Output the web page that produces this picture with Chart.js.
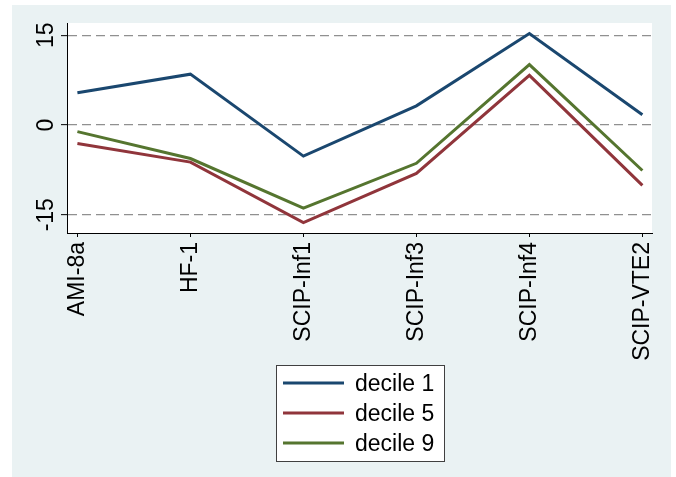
<!DOCTYPE html>
<html>
<head>
<meta charset="utf-8">
<script src="https://cdn.jsdelivr.net/npm/chart.js@4/dist/chart.umd.min.js"></script>
<style>
  html, body { margin: 0; padding: 0; background: #ffffff; }
  canvas { display: block; }
</style>
</head>
<body>
<canvas id="chart" width="676" height="477"></canvas>
<script>
// Measures and the three decile series
const categories = ['AMI-8a', 'HF-1', 'SCIP-Inf1', 'SCIP-Inf3', 'SCIP-Inf4', 'SCIP-VTE2'];
const decile1 = [5.4, 8.5, -5.2, 3.2, 15.3, 1.7];
const decile5 = [-3.1, -6.2, -16.3, -8.1, 8.3, -10.1];
const decile9 = [-1.1, -5.6, -13.9, -6.4, 10.1, -7.6];
const seriesNames = ['decile 1', 'decile 5', 'decile 9'];
const yTicks = [-15, 0, 15];

const FONT = '"Liberation Sans", Arial, Helvetica, sans-serif';
const FONT_SIZE = 23;
const colors = ['#1a476f', '#90353b', '#55752f'];

const toPoints = vals => vals.map((v, i) => ({ x: i, y: v }));

// Graph region, plot region backgrounds
const backdrop = {
  id: 'backdrop',
  beforeDraw(chart) {
    const { ctx, chartArea: a } = chart;
    ctx.save();
    ctx.fillStyle = '#ffffff';
    ctx.fillRect(0, 0, chart.width, chart.height);
    ctx.fillStyle = '#eaf2f3';
    ctx.fillRect(12, 5, 659, 472);
    ctx.fillStyle = '#ffffff';
    ctx.fillRect(a.left, a.top, a.right - a.left, a.bottom - a.top);
    ctx.restore();
  }
};

// Vertical y tick labels and the boxed legend
const annotations = {
  id: 'annotations',
  afterDraw(chart) {
    const { ctx } = chart;
    const ys = chart.scales.y;
    ctx.save();
    ctx.font = FONT_SIZE + 'px ' + FONT;
    ctx.fillStyle = '#000000';
    ctx.textAlign = 'center';
    ctx.textBaseline = 'alphabetic';
    ys.ticks.forEach(t => {
      const py = ys.getPixelForValue(t.value);
      ctx.save();
      ctx.translate(53, py);
      ctx.rotate(-Math.PI / 2);
      ctx.fillText(String(t.value), 0, 0);
      ctx.restore();
    });

    // legend box
    const bx = 276, by = 365, bw = 168, bh = 96;
    ctx.fillStyle = '#ffffff';
    ctx.fillRect(bx, by, bw, bh);
    ctx.strokeStyle = '#404040';
    ctx.lineWidth = 1;
    ctx.strokeRect(bx + 0.5, by + 0.5, bw, bh);
    chart.data.datasets.forEach((ds, i) => {
      const ly = 383 + i * 30;
      ctx.strokeStyle = ds.borderColor;
      ctx.lineWidth = 3;
      ctx.beginPath();
      ctx.moveTo(283, ly);
      ctx.lineTo(344, ly);
      ctx.stroke();
      ctx.fillStyle = '#000000';
      ctx.textAlign = 'left';
      ctx.fillText(ds.label, 355, ly + 8);
    });
    ctx.restore();
  }
};

new Chart(document.getElementById('chart'), {
  type: 'line',
  data: {
    datasets: [decile1, decile5, decile9].map((vals, i) => ({
      label: seriesNames[i],
      data: toPoints(vals),
      borderColor: colors[i],
      backgroundColor: colors[i],
      borderWidth: 3,
      pointRadius: 0,
      tension: 0,
      fill: false
    }))
  },
  options: {
    responsive: false,
    animation: false,
    devicePixelRatio: 1,
    layout: { padding: { top: 23, right: 24, left: 0, bottom: 0 } },
    plugins: { legend: { display: false }, tooltip: { enabled: false } },
    scales: {
      x: {
        type: 'linear',
        min: -0.092,
        max: 5.085,
        afterBuildTicks: s => { s.ticks = categories.map((_, i) => ({ value: i })); },
        afterFit: s => { s.height = 244; },
        ticks: {
          autoSkip: false,
          minRotation: 90,
          maxRotation: 90,
          padding: 5,
          color: '#000000',
          font: { family: FONT, size: FONT_SIZE },
          callback: v => categories[v]
        },
        grid: { drawOnChartArea: false, drawTicks: true, tickLength: 4, tickColor: '#000000', tickWidth: 1 },
        border: { display: true, color: '#000000', width: 1 }
      },
      y: {
        type: 'linear',
        min: -18.05,
        max: 17.05,
        afterBuildTicks: s => { s.ticks = yTicks.map(v => ({ value: v })); },
        afterFit: s => { s.width = 67; },
        ticks: { display: false },
        grid: {
          color: '#909090',
          lineWidth: 1.3,
          drawTicks: true,
          tickLength: 6,
          tickColor: '#000000',
          tickWidth: 1,
          tickBorderDash: []
        },
        border: { display: true, color: '#000000', width: 1, dash: [9, 5] }
      }
    }
  },
  plugins: [backdrop, annotations]
});
</script>
</body>
</html>
